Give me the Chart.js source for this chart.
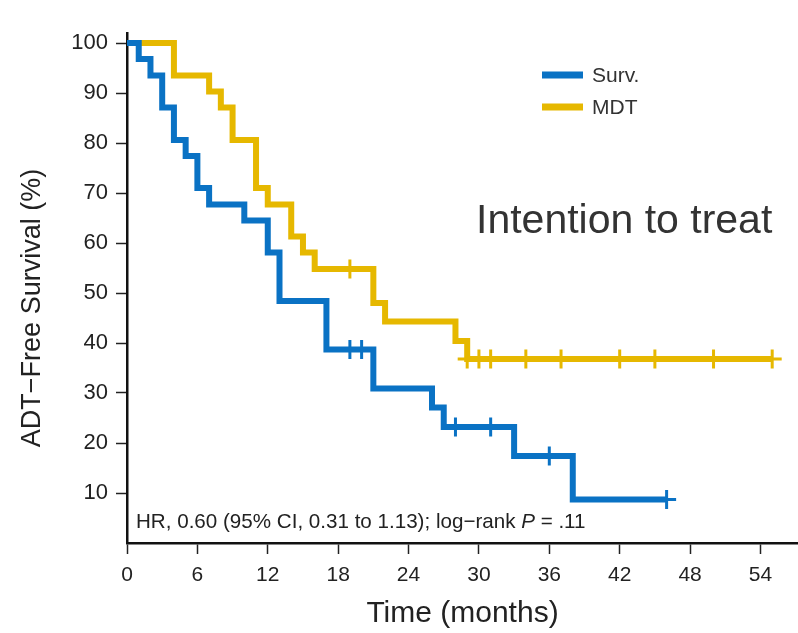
<!DOCTYPE html>
<html>
<head>
<meta charset="utf-8">
<script src="https://cdn.jsdelivr.net/npm/chart.js@4.4.1/dist/chart.umd.min.js"></script>
<style>
	html, body { margin: 0; padding: 0; background: #fff; }
	canvas { display: block; }
</style>
</head>
<body>
<canvas id="km" width="798" height="633"></canvas>
<script>
// Kaplan-Meier steps (months, % ADT-free)
const survTimes = [0, 1, 2, 3, 4, 5, 6, 7, 10, 12, 13, 17, 21, 26, 27, 33, 38, 46];
const survValues = [100, 96.8, 93.5, 87.1, 80.6, 77.4, 71.0, 67.7, 64.5, 58.1, 48.4, 38.7, 30.9, 27.1, 23.2, 17.4, 8.7, 8.7];
const survCensorTimes = [19, 20, 28, 31, 36, 46];
const survCensorValues = [38.7, 38.7, 23.2, 23.2, 17.4, 8.7];

const mdtTimes = [0, 4, 7, 8, 9, 11, 12, 14, 15, 16, 21, 22, 28, 29, 55];
const mdtValues = [100, 93.5, 90.3, 87.1, 80.6, 71.0, 67.7, 61.3, 58.1, 54.8, 48.0, 44.3, 40.4, 36.8, 36.8];
const mdtCensorTimes = [19, 29, 30, 31, 34, 37, 42, 45, 50, 55];
const mdtCensorValues = [54.8, 36.8, 36.8, 36.8, 36.8, 36.8, 36.8, 36.8, 36.8, 36.8];

const xTicks = [0, 6, 12, 18, 24, 30, 36, 42, 48, 54];
const yTicks = [10, 20, 30, 40, 50, 60, 70, 80, 90, 100];

const seriesNames = ["Surv.", "MDT"];
const BLUE = "#0a72c4";
const YELLOW = "#e6b800";
const FONT = "'Liberation Sans', Arial, sans-serif";

const toPoints = (xs, ys) => xs.map((x, i) => ({ x, y: ys[i] }));

// legend, annotations and the rotated y title
const overlay = {
	id: "overlay",
	afterDraw(chart) {
		const ctx = chart.ctx;
		ctx.save();

		// legend
		const legend = [
			{ label: seriesNames[0], color: BLUE, y: 75 },
			{ label: seriesNames[1], color: YELLOW, y: 107 }
		];
		ctx.textBaseline = "middle";
		ctx.textAlign = "left";
		ctx.font = `21px ${FONT}`;
		for (const item of legend) {
			ctx.strokeStyle = item.color;
			ctx.lineWidth = 7;
			ctx.beginPath();
			ctx.moveTo(542, item.y);
			ctx.lineTo(583, item.y);
			ctx.stroke();
			ctx.fillStyle = "#333";
			ctx.fillText(item.label, 592, item.y + 1);
		}

		// big label
		ctx.textBaseline = "alphabetic";
		ctx.font = `41px ${FONT}`;
		ctx.fillStyle = "#333";
		ctx.fillText("Intention to treat", 476, 233);

		// HR line, P in italics
		let x = 136;
		const yText = 528;
		ctx.fillStyle = "#222";
		const parts = [
			{ t: "HR, 0.60 (95% CI, 0.31 to 1.13); log\u2212rank ", f: `20.6px ${FONT}` },
			{ t: "P", f: `italic 20.6px ${FONT}` },
			{ t: " = .11", f: `20.6px ${FONT}` }
		];
		for (const p of parts) {
			ctx.font = p.f;
			ctx.fillText(p.t, x, yText);
			x += ctx.measureText(p.t).width;
		}

		// y axis title
		ctx.translate(33, 308);
		ctx.rotate(-Math.PI / 2);
		ctx.textAlign = "center";
		ctx.textBaseline = "middle";
		ctx.font = `27px ${FONT}`;
		ctx.fillStyle = "#222";
		ctx.fillText("ADT\u2212Free Survival (%)", 0, 0);

		ctx.restore();
	}
};

const lineStyle = color => ({
	borderColor: color,
	backgroundColor: color,
	borderWidth: 6,
	stepped: true,
	pointRadius: 0,
	pointHoverRadius: 0,
	borderJoinStyle: "miter",
	fill: false
});

const censorStyle = color => ({
	showLine: false,
	pointStyle: "cross",
	pointRadius: 9.5,
	pointHoverRadius: 9.5,
	pointBorderWidth: 3,
	pointBorderColor: color,
	pointBackgroundColor: color
});

new Chart(document.getElementById("km"), {
	type: "line",
	data: {
		datasets: [
			{ label: seriesNames[0], data: toPoints(survTimes, survValues), ...lineStyle(BLUE) },
			{ label: seriesNames[0] + " censored", data: toPoints(survCensorTimes, survCensorValues), ...censorStyle(BLUE) },
			{ label: seriesNames[1], data: toPoints(mdtTimes, mdtValues), ...lineStyle(YELLOW) },
			{ label: seriesNames[1] + " censored", data: toPoints(mdtCensorTimes, mdtCensorValues), ...censorStyle(YELLOW) }
		]
	},
	options: {
		responsive: false,
		animation: false,
		devicePixelRatio: 1,
		layout: {
			autoPadding: false,
			padding: { top: 33, right: 0, bottom: 0, left: 0 }
		},
		plugins: {
			legend: { display: false },
			tooltip: { enabled: false }
		},
		scales: {
			x: {
				type: "linear",
				min: 0,
				max: 57.2,
				afterBuildTicks(scale) {
					scale.ticks = xTicks.map(value => ({ value }));
				},
				afterFit(scale) {
					scale.height = 90;
				},
				border: { display: true, color: "#111", width: 2.5 },
				grid: {
					drawOnChartArea: false,
					drawTicks: true,
					tickLength: 11,
					tickColor: "#222",
					tickWidth: 1.5
				},
				ticks: {
					autoSkip: false,
					maxRotation: 0,
					padding: 9,
					color: "#222",
					font: { family: FONT, size: 21 }
				},
				title: {
					display: true,
					text: "Time (months)",
					color: "#222",
					font: { family: FONT, size: 30 },
					padding: { top: 0, bottom: 1 }
				}
			},
			y: {
				type: "linear",
				min: 0,
				max: 102,
				afterBuildTicks(scale) {
					scale.ticks = yTicks.map(value => ({ value }));
				},
				afterFit(scale) {
					scale.width = 127;
				},
				border: { display: true, color: "#111", width: 2.5 },
				grid: {
					drawOnChartArea: false,
					drawTicks: true,
					tickLength: 11,
					tickColor: "#222",
					tickWidth: 1.5
				},
				ticks: {
					autoSkip: false,
					padding: 8,
					color: "#222",
					font: { family: FONT, size: 22 }
				}
			}
		}
	},
	plugins: [overlay]
});
</script>
</body>
</html>
